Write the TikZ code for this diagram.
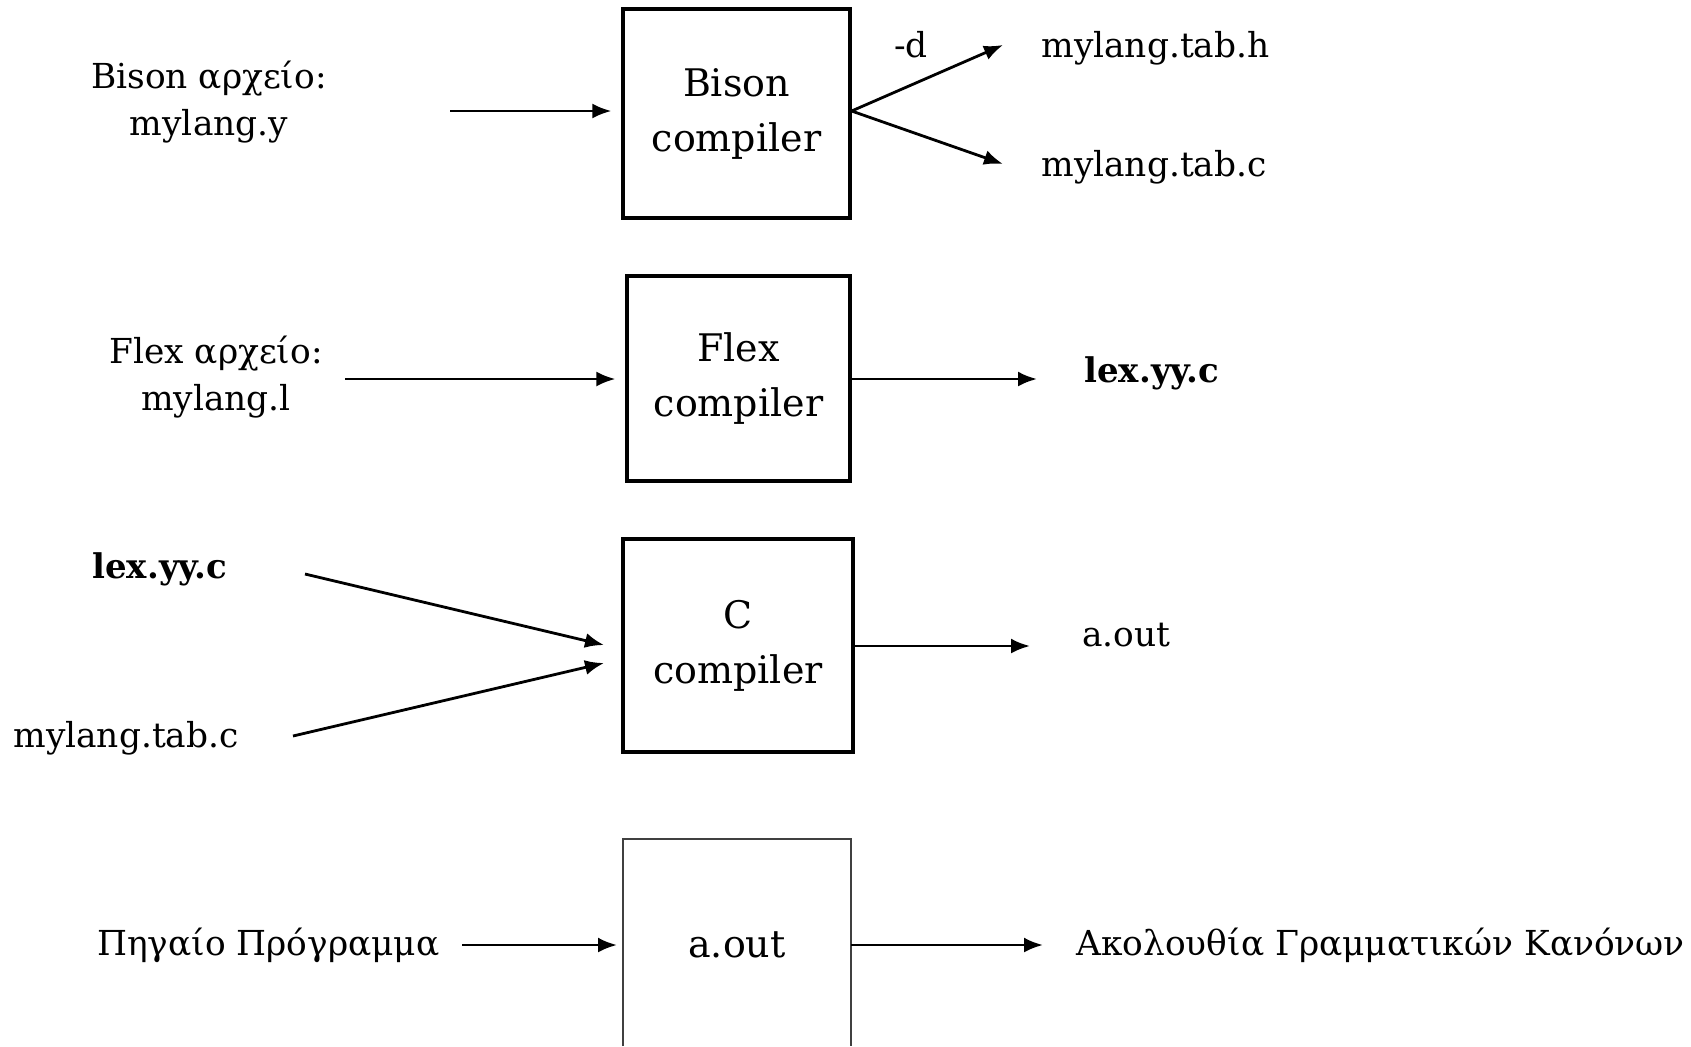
\documentclass[tikz,border=0pt]{standalone}
\usepackage{fontspec}
\setmainfont{DejaVu Serif}
\usetikzlibrary{arrows.meta}
\begin{document}
\begin{tikzpicture}[x=0.5pt,y=-0.5pt,
  box/.style={draw=black,line width=1.6pt,inner sep=0pt,align=center,
    font=\fontsize{19}{27.5}\selectfont},
  side/.style={inner sep=0pt,align=center,font=\fontsize{17.2}{23.5}\selectfont},
  boldlbl/.style={inner sep=0pt,font=\fontsize{17}{20}\selectfont\bfseries},
  arr/.style={line width=1.4pt,-{Latex[length=9.5pt,width=7.5pt]}}]
\useasboundingbox (0,0) rectangle (1691,1046);
\fill[white] (0,0) rectangle (1691,1046);

% Bison row
\node[box,minimum width=113.5pt,minimum height=104.5pt] (bison) at (736.5,113.5) {Bison\\compiler};
\node[side] (bisonin) at (209,102) {Bison αρχείο:\\mylang.y};
\coordinate (bisonstart) at (450,111);
\draw[arr,shorten >=5pt] (bisonstart) -- (bison.west |- bisonstart);
\coordinate (fork) at (bison.east |- bisonstart);
\coordinate (htip) at (1003,45);
\coordinate (ctip) at (1003,164);
\draw[arr] (fork) -- (htip);
\draw[arr] (fork) -- (ctip);
\node[side,anchor=center] (dopt) at (911,45) {-d};
\node[side,anchor=west] (tabh) at (1041,48) {mylang.tab.h};
\node[side,anchor=west] (tabc) at (1041,167) {mylang.tab.c};

% Flex row
\node[box,minimum width=111.5pt,minimum height=102.5pt] (flex) at (738.5,378.5) {Flex\\compiler};
\node[side] (flexin) at (216,377) {Flex αρχείο:\\mylang.l};
\coordinate (flexstart) at (345,379);
\draw[arr,shorten >=5pt] (flexstart) -- (flex.west |- flexstart);
\node[boldlbl,anchor=west] (lexout) at (1084,373) {lex.yy.c};
\coordinate (flextip) at (1037,379);
\draw[arr] (flex.east |- flexstart) -- (flextip);

% C row
\node[box,minimum width=115pt,minimum height=106.5pt] (cc) at (738,645.5) {C\\compiler};
\node[boldlbl,anchor=west] (lexin) at (92,569) {lex.yy.c};
\node[side,anchor=west] (tabcin) at (13,738) {mylang.tab.c};
\coordinate (lexstart) at (305,574);
\coordinate (lextip) at (604,645);
\coordinate (tabstart) at (293,736);
\coordinate (tabtip) at (604,663);
\draw[arr] (lexstart) -- (lextip);
\draw[arr] (tabstart) -- (tabtip);
\node[side,anchor=west] (aoutlbl) at (1082,635) {a.out};
\coordinate (ctipout) at (1030,646);
\draw[arr] (cc.east |- ctipout) -- (ctipout);

% a.out row
\draw[line width=1.3pt,draw=black!75] (623,1046) -- (623,839) -- (851,839) -- (851,1046);
\node[inner sep=0pt,font=\fontsize{19}{27.5}\selectfont] (aout) at (737,945) {a.out};
\coordinate (aoutL) at (623,945);
\coordinate (aoutR) at (851,945);
\node[side,anchor=east] (src) at (440,945) {Πηγαίο Πρόγραμμα};
\coordinate (srcstart) at (462,945);
\draw[arr,shorten >=3pt] (srcstart) -- (aoutL);
\node[side,anchor=west] (rules) at (1076,945) {Ακολουθία Γραμματικών Κανόνων};
\coordinate (rulestip) at (1043,945);
\draw[arr] (aoutR) -- (rulestip);
\end{tikzpicture}
\end{document}
